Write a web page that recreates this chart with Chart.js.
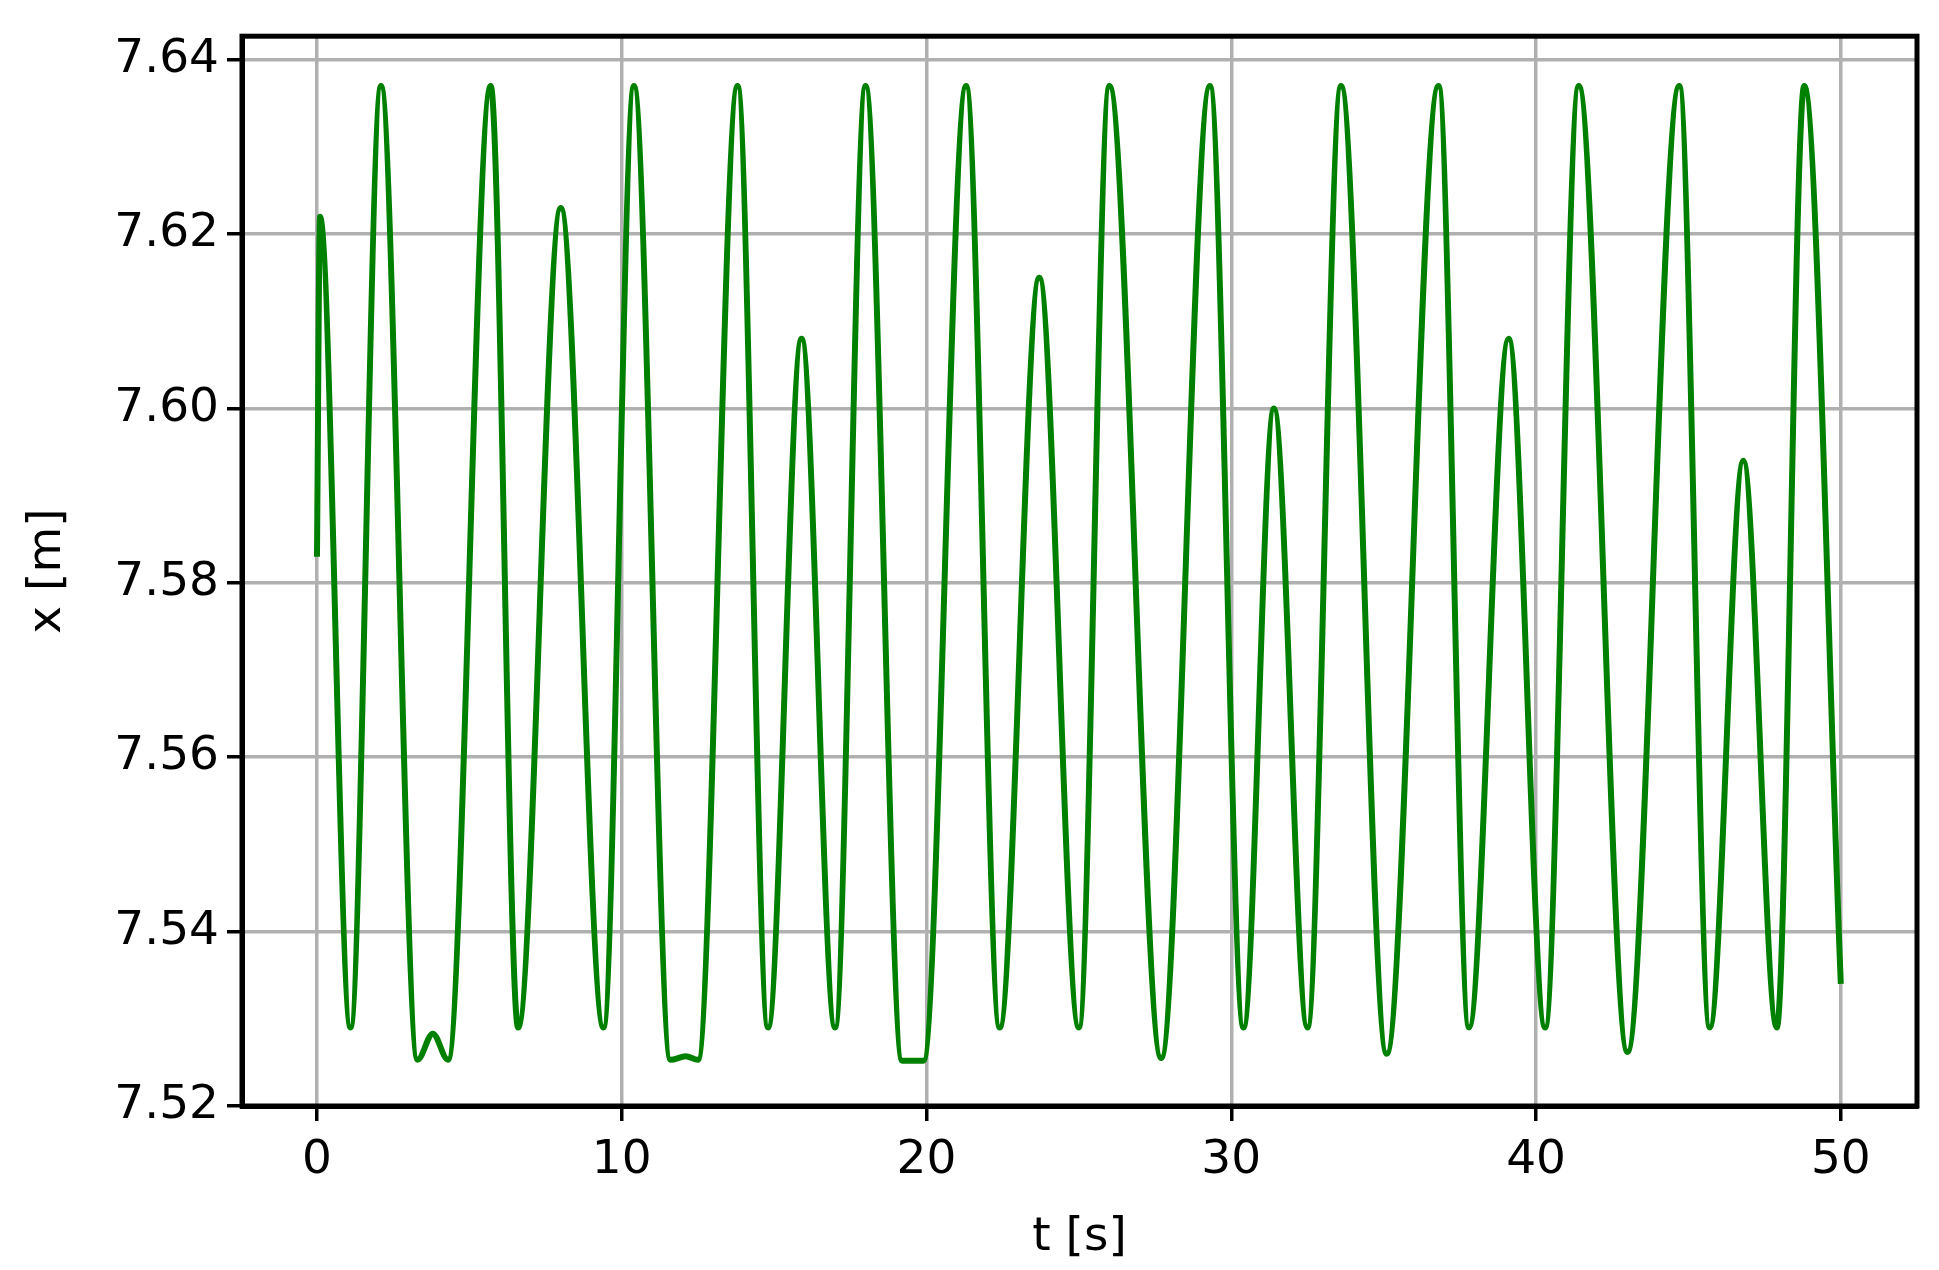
<!DOCTYPE html><html><head><style>html,body{margin:0;background:#fff}</style>
<script src="https://cdn.jsdelivr.net/npm/chart.js@4"></script></head><body>
<div style="width:1939px;height:1270px"><canvas id="c"></canvas></div>
<script>
const times = [0,0.1,1.1,2.1,3.3,3.8,4.3,5.7,6.6,8.0,9.4,10.4,11.6,12.1,12.5,13.8,14.8,15.9,17.0,18.0,19.2,19.9,21.3,22.4,23.7,25.0,26.0,27.7,29.3,30.4,31.4,32.5,33.6,35.1,36.8,37.8,39.1,40.3,41.4,43.0,44.7,45.7,46.8,47.9,48.8,50];
const xValues = [7.583,7.622,7.529,7.637,7.5253,7.5283,7.5253,7.637,7.529,7.623,7.529,7.637,7.5253,7.5257,7.5253,7.637,7.529,7.608,7.529,7.637,7.5252,7.5252,7.637,7.529,7.615,7.529,7.637,7.5255,7.637,7.529,7.600,7.529,7.637,7.526,7.637,7.529,7.608,7.529,7.637,7.5262,7.637,7.529,7.594,7.529,7.637,7.534];
const xTicks=[0,10,20,30,40,50];
const yTicks=[7.52,7.54,7.56,7.58,7.60,7.62,7.64];
const F='DejaVu Sans';
new Chart(document.getElementById('c'),{type:'line',
data:{datasets:[{data:times.map((t,i)=>({x:t,y:xValues[i]})),borderColor:'#008000',borderWidth:6,pointRadius:0,cubicInterpolationMode:'monotone'}]},
options:{responsive:true,maintainAspectRatio:false,animation:false,devicePixelRatio:1,
layout:{padding:{top:4,right:22}},
plugins:{legend:{display:false},tooltip:{enabled:false}},
scales:{
x:{type:'linear',min:-2.46,max:52.5,afterBuildTicks:a=>{a.ticks=xTicks.map(v=>({value:v}))},afterFit:a=>{a.height=164},
 grid:{color:'#b0b0b0',lineWidth:3.5,tickColor:'#000',tickLength:15},border:{color:'#000',width:5},
 ticks:{color:'#000',font:{family:F,size:47},padding:12,maxRotation:0},
 title:{display:true,text:'t [s]',color:'#000',font:{family:F,size:47},padding:{top:0}}},
y:{min:7.52,max:7.6427,afterBuildTicks:a=>{a.ticks=yTicks.map(v=>({value:v}))},afterFit:a=>{a.width=242},
 grid:{color:'#b0b0b0',lineWidth:3.5,tickColor:'#000',tickLength:15},border:{color:'#000',width:5},
 ticks:{color:'#000',font:{family:F,size:47},padding:8,callback:v=>v.toFixed(2)},
 title:{display:true,text:'x [m]',color:'#000',font:{family:F,size:47},padding:{top:20,bottom:0}}}}},
plugins:[{id:'frame',afterDraw(c){const a=c.chartArea,x=c.ctx;x.save();x.strokeStyle='#000';x.lineWidth=5;x.strokeRect(a.left,a.top,a.right-a.left,a.bottom-a.top);x.restore();}}]
});
</script></body></html>
